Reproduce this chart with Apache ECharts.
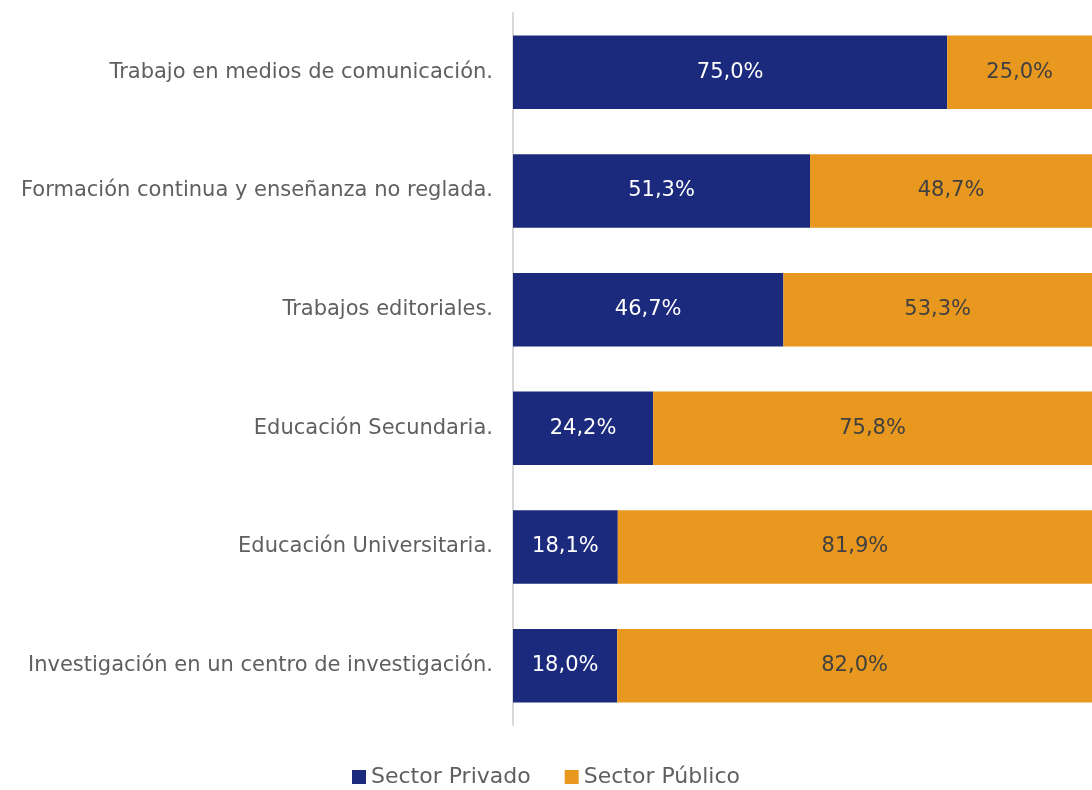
<!DOCTYPE html>
<html lang='es'>
<head>
  <meta charset='UTF-8'>
  <title>Sector privado / público</title>
  <script src="https://cdn.jsdelivr.net/npm/echarts@6/dist/echarts.min.js"></script>
  <style>html,body{margin:0;padding:0;background:#fff;}</style>
</head>
<body>
<div id="main" style="width:1092px;height:790px;"></div>
<script>
  const categories = [
    'Trabajo en medios de comunicación.',
    'Formación continua y enseñanza no reglada.',
    'Trabajos editoriales.',
    'Educación Secundaria.',
    'Educación Universitaria.',
    'Investigación en un centro de investigación.'
  ]
  const privado = [75.0, 51.3, 46.7, 24.2, 18.1, 18.0]
  const publico = [25.0, 48.7, 53.3, 75.8, 81.9, 82.0]

  const font = 'DejaVu Sans'
  const fmt = p => p.value.toFixed(1).replace('.', ',') + '%'

  var myChart = echarts.init(document.getElementById('main'))
  var option = {
    animation: false,
    textStyle: { fontFamily: font },
    grid: { left: 513, right: 0, top: 13, bottom: 65, containLabel: false },
    legend: {
      bottom: -3,
      left: 'center',
      itemWidth: 14,
      itemHeight: 14,
      itemGap: 34,
      icon: 'rect',
      textStyle: { fontSize: 22, color: '#5f5f5f', fontFamily: font }
    },
    xAxis: { type: 'value', min: 0, max: 100, show: false },
    yAxis: {
      type: 'category',
      inverse: true,
      data: categories,
      axisLine: { show: true, lineStyle: { color: '#D9D9D9', width: 2 } },
      axisTick: { show: false },
      axisLabel: { fontSize: 21, color: '#5f5f5f', margin: 20, fontFamily: font }
    },
    series: [
      {
        name: 'Sector Privado',
        type: 'bar',
        stack: 'total',
        barCategoryGap: '38%',
        data: privado,
        itemStyle: { color: '#1B2A7C' },
        label: { show: true, position: 'inside', color: '#fff', fontSize: 21, formatter: fmt, fontFamily: font }
      },
      {
        name: 'Sector Público',
        type: 'bar',
        stack: 'total',
        barCategoryGap: '38%',
        data: publico,
        itemStyle: { color: '#E8981E' },
        label: { show: true, position: 'inside', color: '#404040', fontSize: 21, formatter: fmt, fontFamily: font }
      }
    ]
  }
  myChart.setOption(option)
</script>
</body>
</html>
